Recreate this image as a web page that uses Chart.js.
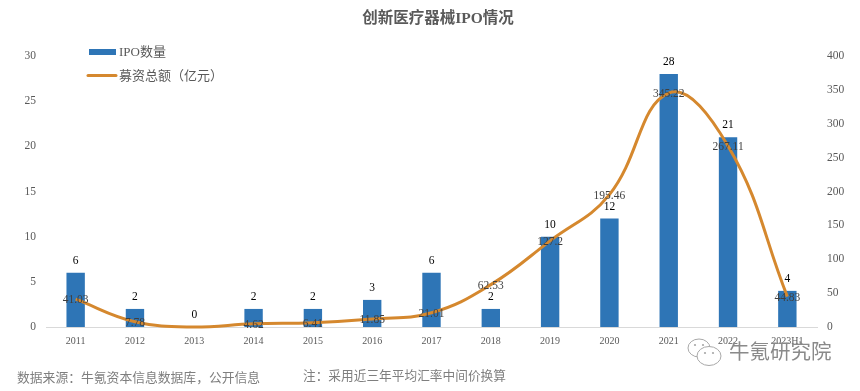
<!DOCTYPE html>
<html><head><meta charset="utf-8">
<style>html,body{margin:0;padding:0;background:#fff}canvas{display:block}</style>
<script src="https://cdn.jsdelivr.net/npm/chart.js@4/dist/chart.umd.js"></script>
</head><body><canvas id="c" width="860" height="391"></canvas>
<script>
const categories=['2011','2012','2013','2014','2015','2016','2017','2018','2019','2020','2021','2022','2023H1'];
const ipoCounts=[6,2,0,2,2,3,6,2,10,12,28,21,4];
const fundsRaised=[41.03,7.78,0,4.62,6.41,11.85,21.01,62.53,127.2,195.46,345.22,267.11,44.83];
const fundLabels=['41.03','7.78','','4.62','6.41','11.85','21.01','62.53','127.2','195.46','345.22','267.11','44.83'];
const seriesNames=['IPO数量','募资总额（亿元）'];
const titleText='创新医疗器械IPO情况';
const sourceNote='数据来源：牛氪资本信息数据库，公开信息';
const rateNote='注：采用近三年平均汇率中间价换算';
const watermark='牛氪研究院';
const SERIF='"Liberation Serif","Noto Sans CJK SC",serif';
const CJK='"Liberation Serif","Noto Sans CJK SC",sans-serif';
const BLUE='#2E75B6',ORANGE='#D5882E',GREY='#595959';

const overlay={id:'overlay',afterDatasetsDraw(chart){
  const c=chart.ctx,xs=chart.scales.x,yL=chart.scales.y,yR=chart.scales.y1;
  c.save();c.textAlign='center';c.textBaseline='middle';
  c.font='11.5px '+SERIF;
  categories.forEach((_,i)=>{
    c.fillStyle='#000';
    c.fillText(String(ipoCounts[i]),xs.getPixelForValue(i),yL.getPixelForValue(ipoCounts[i])-12);
    if(fundLabels[i]){c.fillStyle='#404040';
      c.fillText(fundLabels[i],xs.getPixelForValue(i),yR.getPixelForValue(fundsRaised[i])+1);}
  });
  // legend
  c.textAlign='left';c.font='13px '+CJK;
  c.fillStyle=BLUE;c.fillRect(89,49,27,6);
  c.fillStyle=GREY;c.fillText(seriesNames[0],119,53);
  c.strokeStyle=ORANGE;c.lineWidth=3;c.lineCap='round';
  c.beginPath();c.moveTo(88,75.5);c.lineTo(116,75.5);c.stroke();
  c.fillStyle=GREY;c.font='13px '+CJK;c.fillText(seriesNames[1],119,76.5);
  // notes
  c.font='12.8px '+CJK;c.fillStyle='#7f7f7f';
  c.fillText(sourceNote,17,379);
  c.font='12.7px '+CJK;
  c.fillText(rateNote,303,377);
  // watermark
  c.font='20.5px '+CJK;c.fillStyle='#8a8a8a';
  c.fillText(watermark,729,354);
  c.strokeStyle='#a8a8a8';c.lineWidth=1;c.lineCap='butt';
  c.beginPath();c.ellipse(699,348,11,9,0,0,Math.PI*2);c.stroke();
  c.fillStyle='#fff';c.beginPath();c.ellipse(709,356,12,9.5,0,0,Math.PI*2);c.fill();c.stroke();
  c.fillStyle='#a8a8a8';
  [[695,345],[703,345],[705,353],[713,353]].forEach(p=>{c.beginPath();c.arc(p[0],p[1],1.1,0,Math.PI*2);c.fill();});
  c.restore();
}};

new Chart(document.getElementById('c'),{
  data:{labels:categories,datasets:[
    {type:'line',label:seriesNames[1],data:fundsRaised,yAxisID:'y1',borderColor:ORANGE,borderWidth:3,
     pointRadius:0,tension:0.42,clip:false,order:1},
    {type:'bar',label:seriesNames[0],data:ipoCounts,yAxisID:'y',backgroundColor:BLUE,
     barPercentage:0.31,categoryPercentage:1,order:2}
  ]},
  options:{responsive:false,animation:false,devicePixelRatio:1,
    layout:{padding:{left:16,right:0,top:0,bottom:0}},
    plugins:{legend:{display:false},tooltip:{enabled:false},
      title:{display:true,text:titleText,color:GREY,font:{family:CJK,size:15.5,weight:'bold'},padding:{top:10,bottom:27.4}}},
    scales:{
      x:{grid:{display:false,drawTicks:false},border:{color:'#D9D9D9',width:1},
         ticks:{color:GREY,font:{family:SERIF,size:10},padding:8,maxRotation:0,autoSkip:false},
         afterFit(s){s.height=64;}},
      y:{position:'left',min:0,max:30,grid:{display:false,drawTicks:false},border:{display:false},
         ticks:{color:GREY,stepSize:5,font:{family:SERIF,size:11.5},padding:10},
         afterFit(s){s.width=30;}},
      y1:{position:'right',min:0,max:400,grid:{display:false,drawTicks:false},border:{display:false},
         ticks:{color:GREY,stepSize:50,font:{family:SERIF,size:11.5},padding:10},
         afterFit(s){s.width=43;}}
    }},
  plugins:[overlay]
});
</script></body></html>
